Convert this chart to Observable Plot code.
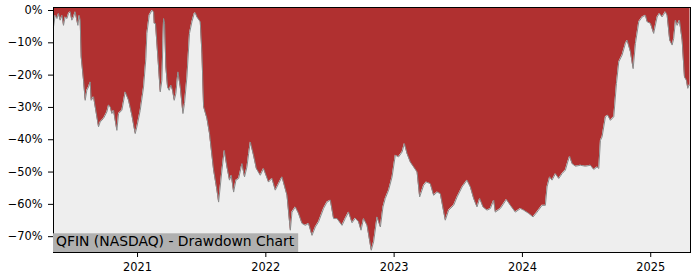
<!DOCTYPE html>
<html>
<head>
<meta charset="utf-8">
<script src="https://cdn.jsdelivr.net/npm/d3@7"></script>
<script src="https://cdn.jsdelivr.net/npm/@observablehq/plot@0.6"></script>
<style>
  html, body { margin: 0; padding: 0; background: #ffffff; }
  svg { display: block; }
</style>
</head>
<body>
<script>
// Time in decimal years, drawdown in percent
const years = [
2020.345,2020.358,2020.372,2020.384,2020.397,2020.411,2020.423,2020.436,2020.450,2020.462,
2020.475,2020.488,2020.501,2020.514,2020.527,2020.535,2020.545,2020.553,2020.561,2020.579,
2020.592,2020.605,2020.618,2020.631,2020.639,2020.657,2020.683,2020.696,2020.709,2020.735,
2020.761,2020.774,2020.787,2020.800,2020.813,2020.839,2020.852,2020.878,2020.904,2020.930,
2020.956,2020.982,2020.995,2021.021,2021.047,2021.065,2021.073,2021.091,2021.112,2021.125,
2021.130,2021.140,2021.151,2021.164,2021.177,2021.190,2021.198,2021.203,2021.211,2021.221,
2021.234,2021.247,2021.260,2021.273,2021.286,2021.299,2021.315,2021.333,2021.354,2021.366,
2021.385,2021.405,2021.424,2021.442,2021.450,2021.463,2021.489,2021.502,2021.515,2021.541,
2021.561,2021.567,2021.593,2021.619,2021.632,2021.658,2021.676,2021.697,2021.717,2021.731,
2021.749,2021.767,2021.788,2021.814,2021.834,2021.853,2021.866,2021.879,2021.904,2021.926,
2021.957,2021.982,2022.021,2022.048,2022.074,2022.099,2022.126,2022.165,2022.191,2022.204,
2022.230,2022.255,2022.282,2022.308,2022.333,2022.360,2022.386,2022.411,2022.450,2022.477,
2022.503,2022.528,2022.555,2022.594,2022.619,2022.645,2022.672,2022.697,2022.723,2022.742,
2022.762,2022.789,2022.809,2022.822,2022.840,2022.867,2022.893,2022.913,2022.931,2022.957,
2022.984,2023.009,2023.035,2023.062,2023.080,2023.101,2023.126,2023.152,2023.179,2023.199,
2023.230,2023.251,2023.282,2023.308,2023.335,2023.360,2023.399,2023.425,2023.464,2023.491,
2023.530,2023.568,2023.594,2023.620,2023.646,2023.667,2023.693,2023.724,2023.750,2023.776,
2023.789,2023.828,2023.875,2023.906,2023.945,2023.984,2024.010,2024.049,2024.083,2024.114,
2024.153,2024.179,2024.192,2024.212,2024.231,2024.257,2024.283,2024.309,2024.335,2024.353,
2024.368,2024.387,2024.413,2024.452,2024.491,2024.530,2024.556,2024.582,2024.595,2024.608,
2024.621,2024.647,2024.665,2024.686,2024.712,2024.733,2024.751,2024.777,2024.803,2024.816,
2024.842,2024.863,2024.881,2024.907,2024.933,2024.959,2024.972,2024.998,2025.023,2025.050,
2025.068,2025.089,2025.114,2025.128,2025.148,2025.167,2025.179,2025.193,2025.206,2025.224,
2025.245,2025.263,2025.278,2025.289,2025.297,2025.306
];
const drawdown = [
-5.1,-1.5,-2.5,-0.9,-3.0,-1.5,-4.6,-2.0,-2.5,-0.9,
-0.4,-3.0,-2.0,-0.4,-3.0,-4.6,-1.5,-3.0,-14.4,-21.6,
-27.8,-24.7,-23.7,-22.1,-27.8,-26.7,-32.9,-36.0,-34.5,-33.4,
-31.4,-29.3,-29.8,-31.9,-30.9,-37.1,-31.9,-30.9,-25.2,-27.8,
-32.4,-38.1,-36.0,-30.9,-23.7,-14.9,-7.1,-1.5,0,-0.4,
-4.0,-4.0,-10.2,-17.5,-25.2,-21.6,-9.2,-2.5,-4.0,-17.5,
-23.7,-24.7,-23.1,-24.7,-27.8,-25.7,-19.0,-23.7,-31.9,-28.8,
-20.6,-7.1,-3.5,-0.9,-0.7,-2.0,-3.5,-13.3,-29.8,-33.4,
-38.1,-40.2,-49.4,-55.6,-59.3,-49.4,-43.3,-48.4,-52.5,-51.0,
-56.2,-52.5,-52.0,-47.4,-51.5,-48.4,-44.3,-40.7,-44.8,-48.9,
-51.0,-48.9,-53.1,-52.0,-55.6,-53.6,-51.5,-57.2,-68.0,-62.4,
-60.8,-62.8,-65.9,-66.5,-65.9,-69.6,-67.0,-65.4,-61.3,-59.3,
-58.7,-64.4,-64.4,-66.5,-64.4,-62.4,-65.7,-64.3,-65.4,-68.0,
-64.4,-66.5,-71.2,-74.2,-71.6,-63.9,-67.0,-60.8,-58.2,-55.6,
-51.5,-44.8,-45.3,-43.8,-41.2,-44.3,-46.9,-48.4,-50.0,-57.7,
-54.1,-53.1,-53.6,-57.2,-56.2,-56.7,-64.9,-61.8,-60.3,-57.7,
-54.6,-52.5,-54.6,-58.2,-60.8,-58.2,-60.8,-61.8,-61.3,-58.7,
-62.4,-61.3,-58.5,-60.3,-62.4,-61.3,-61.8,-62.8,-63.9,-62.4,
-60.3,-60.3,-54.6,-51.5,-52.5,-50.5,-52.0,-50.5,-49.4,-46.9,
-45.1,-47.4,-48.2,-47.9,-48.2,-47.9,-49.2,-48.4,-48.9,-40.2,
-39.1,-32.9,-32.4,-34.0,-32.9,-22.6,-15.9,-13.8,-10.2,-9.2,
-12.8,-18.0,-10.2,-3.5,-2.0,-1.5,-3.5,-4.0,-7.1,-2.0,
-0.9,-2.0,-0.4,-1.5,-9.2,-10.7,-8.7,-3.0,-4.6,-3.0,
-9.2,-20.6,-21.6,-24.1,-23.1,-23.1
];
const xTicks = [2021, 2022, 2023, 2024, 2025];
const yTicks = [0, -10, -20, -30, -40, -50, -60, -70];
const titleText = "QFIN (NASDAQ) - Drawdown Chart";

const xDomain = [2020.345, 2025.31];
const yDomain = [-74.9, 0.93];

const data = years.map((t, i) => ({t, v: drawdown[i]}));
const fmtY = d => (d === 0 ? "0" : "\u2212" + Math.abs(d)) + "%";

const chart = Plot.plot({
  width: 700,
  height: 280,
  marginLeft: 53,
  marginRight: 10,
  marginTop: 7,
  marginBottom: 28,
  style: {fontFamily: "DejaVu Sans", fontSize: "11.4px", color: "#000", background: "#fff"},
  x: {type: "linear", domain: xDomain},
  y: {domain: yDomain},
  marks: [
    Plot.frame({fill: "#eeeeee", stroke: null}),
    Plot.areaY(data, {x: "t", y1: yDomain[1], y2: "v", fill: "#b03030", curve: "linear"}),
    Plot.line(data, {x: "t", y: "v", stroke: "#8a8a8a", strokeWidth: 1}),
    Plot.axisX({ticks: xTicks, tickFormat: d => String(d), tickSize: 5, tickPadding: 5.5, fontSize: 11.4, stroke: "#000", label: null}),
    Plot.axisY({ticks: yTicks, tickFormat: fmtY, tickSize: 5, tickPadding: 6, fontSize: 11.4, stroke: "#000", label: null}),
    Plot.frame({stroke: "#000", strokeWidth: 1}),
    Plot.text([titleText], {frameAnchor: "bottom-left", text: d => d, dx: 2.5, dy: -11, textAnchor: "start", lineAnchor: "middle", fontSize: 13.9, fill: "#000", className: "ttl"})
  ]
});
document.body.append(chart);

// gray box behind title
const tg = chart.querySelector("g.ttl");
if (tg) {
  const tx = tg.querySelector("text");
  const tr = tx.getBoundingClientRect();
  const sr = chart.getBoundingClientRect();
  const right = tr.right - sr.left;
  const ns = "http://www.w3.org/2000/svg";
  const r = document.createElementNS(ns, "rect");
  const left = 53, bottom = 252;
  r.setAttribute("x", left);
  r.setAttribute("y", 233.3);
  r.setAttribute("width", right + 3.4 - left);
  r.setAttribute("height", bottom - 233.3);
  r.setAttribute("fill", "#b0b0b0");
  tg.parentNode.insertBefore(r, tg);
}
</script>
</body>
</html>
